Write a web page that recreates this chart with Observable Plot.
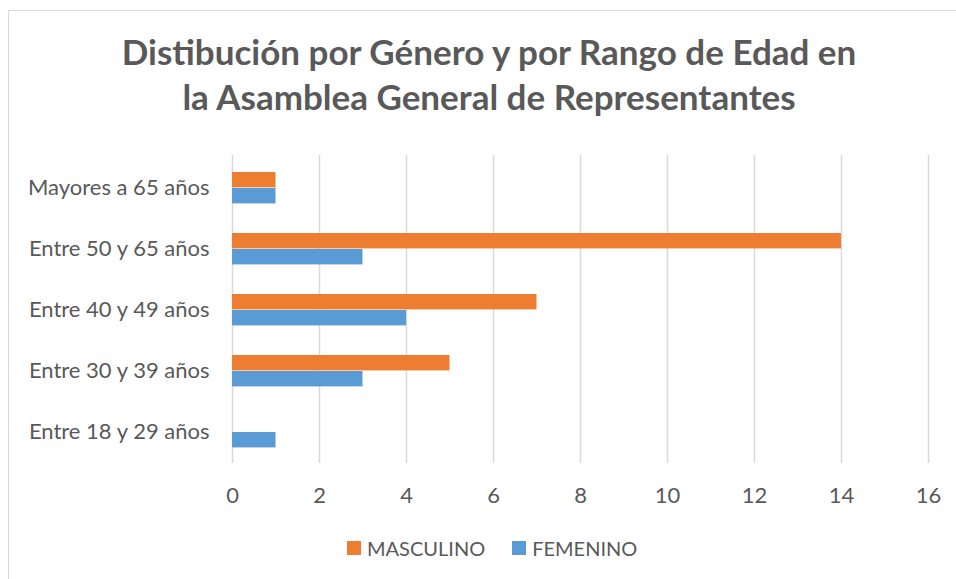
<!DOCTYPE html>
<html>
<head>
<meta charset="utf-8">
<script src="https://cdn.jsdelivr.net/npm/d3@7"></script>
<script src="https://cdn.jsdelivr.net/npm/@observablehq/plot@0.6"></script>
<style>
  html, body { margin: 0; padding: 0; background: #fff; overflow: hidden; }
  body { width: 956px; height: 579px; position: relative; font-family: Lato, "Open Sans", sans-serif; color: #595959; }
  #frame { position: absolute; left: 8px; top: 10px; width: 1100px; height: 800px; border: 1.5px solid #d9d9d9; box-sizing: border-box; }
  #title { position: absolute; left: 0; width: 978px; top: 29px; text-align: center; font-weight: bold; font-size: 35px; line-height: 45px; color: #595959; }
  #chart { position: absolute; left: 0; top: 140px; }
  #legend { position: absolute; left: 347px; top: 536px; display: flex; align-items: center; font-size: 20px; color: #595959; line-height: 24px; }
  .item { display: flex; align-items: center; margin-right: 27px; }
  .sw { width: 14px; height: 14px; margin-right: 6px; }
</style>
</head>
<body>
<div id="frame"></div>
<div id="title">Distibución por Género y por Rango de Edad en<br>la Asamblea General de Representantes</div>
<div id="chart"></div>
<div id="legend"></div>
<script>
const categories = ["Mayores a 65 años", "Entre 50 y 65 años", "Entre 40 y 49 años", "Entre 30 y 39 años", "Entre 18 y 29 años"];
const masculino = [1, 14, 7, 5, 0];
const femenino = [1, 3, 4, 3, 1];
const xTicks = [0, 2, 4, 6, 8, 10, 12, 14, 16];
const seriesNames = ["MASCULINO", "FEMENINO"];
const seriesColors = ["#ED7D31", "#5B9BD5"];

const mData = categories.map((c, i) => ({cat: c, value: masculino[i]}));
const fData = categories.map((c, i) => ({cat: c, value: femenino[i]}));

const plot = Plot.plot({
  width: 956,
  height: 380,
  marginTop: 15,
  marginBottom: 57,
  marginLeft: 232,
  marginRight: 28,
  style: {fontFamily: "Lato, 'Open Sans', sans-serif", fontSize: "22px", color: "#595959", background: "transparent"},
  x: {domain: [0, 16]},
  y: {domain: categories, padding: 0},
  marks: [
    Plot.ruleX(xTicks, {x: d => d, stroke: "#d9d9d9", strokeWidth: 1.5, strokeOpacity: 1}),
    Plot.barX(mData, {x: "value", y: "cat", fill: seriesColors[0], insetTop: 15, insetBottom: 30.6}),
    Plot.barX(fData, {x: "value", y: "cat", fill: seriesColors[1], insetTop: 31, insetBottom: 14.6}),
    Plot.axisX({ticks: xTicks, tickSize: 0, tickPadding: 24, label: null, tickFormat: d => String(d), fill: "#595959", fontSize: 22}),
    Plot.axisY({tickSize: 0, tickPadding: 23, label: null, fill: "#595959", fontSize: 22})
  ]
});
document.getElementById("chart").appendChild(plot);

const legend = document.getElementById("legend");
seriesNames.forEach((name, i) => {
  const item = document.createElement("div");
  item.className = "item";
  const sw = document.createElement("div");
  sw.className = "sw";
  sw.style.background = seriesColors[i];
  const label = document.createElement("span");
  label.textContent = name;
  item.appendChild(sw);
  item.appendChild(label);
  legend.appendChild(item);
});
</script>
</body>
</html>
